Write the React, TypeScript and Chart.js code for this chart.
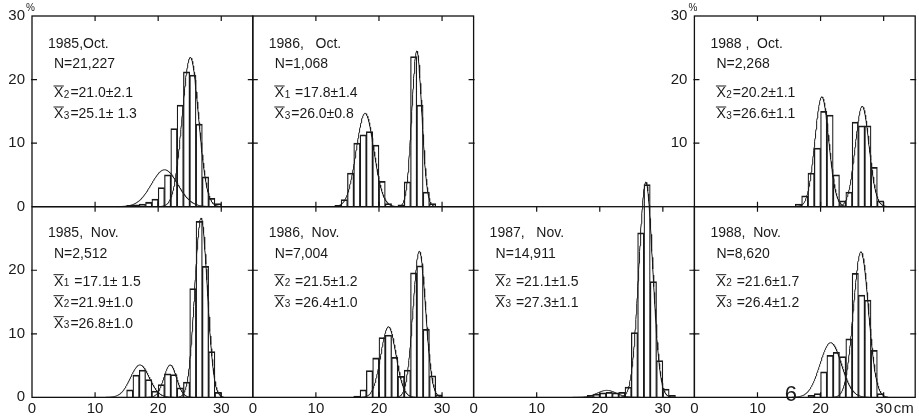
import React, { useEffect, useRef } from "react";
import { Chart, registerables } from "chart.js";

Chart.register(...registerables);

// ---------- axis ticks ----------
const xTickValues = [0, 10, 20, 30];
const yTickValues = [0, 10, 20, 30];
const xMax = 35;
const yMax = 30;

// ---------- 1985 Oct ----------
const oct1985Edges = [15, 16, 17, 18, 19, 20, 21, 22, 23, 24, 25, 26, 27, 28, 29];
const oct1985Pct = [0.2, 0.3, 0.4, 0.7, 1.2, 3.0, 5.0, 12.3, 16.0, 21.2, 20.7, 13.0, 4.7, 1.3, 0.5];
const oct1985Means = [21.0, 25.1];
const oct1985Sds = [2.1, 1.3];
const oct1985Peaks = [5.8, 23.5];
const oct1985Subs = ["2", "3"];
const oct1985Stats = ["=21.0\u00b12.1", "=25.1\u00b1 1.3"];

// ---------- 1986 Oct ----------
const oct1986Edges = [13, 14, 15, 16, 17, 18, 19, 20, 21, 23, 24, 25, 26, 27, 28];
const oct1986Pct = [0.2, 1.1, 5.3, 10.0, 11.3, 11.8, 9.7, 4.0, 0.5, 0.3, 3.9, 23.6, 16.0, 2.3, 0.5];
const oct1986Means = [17.8, 26.0];
const oct1986Sds = [1.4, 0.8];
const oct1986Peaks = [14.7, 24.5];
const oct1986Subs = ["1", "3"];
const oct1986Stats = [" =17.8\u00b11.4", "=26.0\u00b10.8"];

// ---------- 1988 Oct ----------
const oct1988Edges = [16, 17, 18, 19, 20, 21, 22, 23, 24, 25, 26, 27, 28, 29];
const oct1988Pct = [0.4, 1.7, 5.3, 9.2, 15.0, 14.4, 5.0, 0.9, 2.3, 13.3, 12.7, 12.7, 6.2, 0.9];
const oct1988Means = [20.2, 26.6];
const oct1988Sds = [1.1, 1.1];
const oct1988Peaks = [17.3, 15.8];
const oct1988Subs = ["2", "3"];
const oct1988Stats = ["=20.2\u00b11.1", "=26.6\u00b11.1"];

// ---------- 1985 Nov ----------
const nov1985Edges = [15, 16, 17, 18, 19, 20, 21, 22, 23, 24, 25, 26, 27, 28, 29];
const nov1985Pct = [1.2, 3.5, 4.3, 2.8, 1.0, 2.0, 3.7, 3.6, 1.5, 2.4, 17.1, 27.7, 20.6, 7.2, 0.8];
const nov1985Means = [17.1, 21.9, 26.8];
const nov1985Sds = [1.5, 1.0, 1.0];
const nov1985Peaks = [5.1, 5.1, 28.2];
const nov1985Subs = ["1", "2", "3"];
const nov1985Stats = [" =17.1\u00b1 1.5", "=21.9\u00b11.0", "=26.8\u00b11.0"];

// ---------- 1986 Nov ----------
const nov1986Edges = [16, 17, 18, 19, 20, 21, 22, 23, 24, 25, 26, 27, 28, 29];
const nov1986Pct = [0.2, 1.2, 4.2, 6.2, 9.4, 9.8, 6.3, 3.3, 4.3, 19.6, 20.7, 10.7, 3.4, 0.4];
const nov1986Means = [21.5, 26.4];
const nov1986Sds = [1.2, 1.0];
const nov1986Peaks = [11.1, 23.0];
const nov1986Subs = ["2", "3"];
const nov1986Stats = [" =21.5\u00b11.2", " =26.4\u00b11.0"];

// ---------- 1987 Nov ----------
const nov1987Edges = [18, 19, 20, 21, 22, 23, 24, 25, 26, 27, 28, 29, 30, 31];
const nov1987Pct = [0.3, 0.5, 0.7, 0.8, 0.7, 0.8, 1.6, 10.2, 25.9, 33.5, 18.2, 5.8, 1.3, 0.3];
const nov1987Means = [21.1, 27.3];
const nov1987Sds = [1.5, 1.1];
const nov1987Peaks = [1.1, 33.9];
const nov1987Subs = ["2", "3"];
const nov1987Stats = [" =21.1\u00b11.5", " =27.3\u00b11.1"];

// ---------- 1988 Nov ----------
const nov1988Edges = [18, 19, 20, 21, 22, 23, 24, 25, 26, 27, 28, 29];
const nov1988Pct = [0.3, 0.6, 4.0, 6.6, 7.1, 6.4, 9.2, 19.5, 16.1, 15.3, 7.4, 0.6];
const nov1988Means = [21.6, 26.4];
const nov1988Sds = [1.7, 1.2];
const nov1988Peaks = [8.6, 22.9];
const nov1988Subs = ["2", "3"];
const nov1988Stats = [" =21.6\u00b11.7", " =26.4\u00b11.2"];

type Panel = {
  col: number;
  row: number;
  edges: number[];
  pct: number[];
  means: number[];
  sds: number[];
  peaks: number[];
  title: string;
  n: string;
  subs: string[];
  stats: string[];
  yLabels: number[];
  xLabels: boolean;
  percent?: boolean;
  cm?: boolean;
  pageNo?: boolean;
};

const panels: Panel[] = [
  { col: 0, row: 0, edges: oct1985Edges, pct: oct1985Pct, means: oct1985Means, sds: oct1985Sds, peaks: oct1985Peaks,
    title: "1985,Oct.", n: "N=21,227", subs: oct1985Subs, stats: oct1985Stats, yLabels: [0, 10, 20, 30], xLabels: false, percent: true },
  { col: 1, row: 0, edges: oct1986Edges, pct: oct1986Pct, means: oct1986Means, sds: oct1986Sds, peaks: oct1986Peaks,
    title: "1986,   Oct.", n: "N=1,068", subs: oct1986Subs, stats: oct1986Stats, yLabels: [], xLabels: false },
  { col: 3, row: 0, edges: oct1988Edges, pct: oct1988Pct, means: oct1988Means, sds: oct1988Sds, peaks: oct1988Peaks,
    title: "1988 ,  Oct.", n: "N=2,268", subs: oct1988Subs, stats: oct1988Stats, yLabels: [10, 20, 30], xLabels: false, percent: true },
  { col: 0, row: 1, edges: nov1985Edges, pct: nov1985Pct, means: nov1985Means, sds: nov1985Sds, peaks: nov1985Peaks,
    title: "1985,  Nov.", n: "N=2,512", subs: nov1985Subs, stats: nov1985Stats, yLabels: [0, 10, 20], xLabels: true },
  { col: 1, row: 1, edges: nov1986Edges, pct: nov1986Pct, means: nov1986Means, sds: nov1986Sds, peaks: nov1986Peaks,
    title: "1986,  Nov.", n: "N=7,004", subs: nov1986Subs, stats: nov1986Stats, yLabels: [], xLabels: true },
  { col: 2, row: 1, edges: nov1987Edges, pct: nov1987Pct, means: nov1987Means, sds: nov1987Sds, peaks: nov1987Peaks,
    title: "1987,   Nov.", n: "N=14,911", subs: nov1987Subs, stats: nov1987Stats, yLabels: [], xLabels: true },
  { col: 3, row: 1, edges: nov1988Edges, pct: nov1988Pct, means: nov1988Means, sds: nov1988Sds, peaks: nov1988Peaks,
    title: "1988,  Nov.", n: "N=8,620", subs: nov1988Subs, stats: nov1988Stats, yLabels: [], xLabels: true, cm: true, pageNo: true },
];

const PAGE_W = 919;
const PAGE_H = 419;
const PANEL_W = 220.8;
const PANEL_H = 190.65;
const ROW_TOP = [16, 206.7];
const Y_AXIS_W = 30;
const X_AXIS_H = 22;
const INK = "#1a1a1a";
const FONT = '"Liberation Sans", Arial, Helvetica, sans-serif';

function gaussPoints(mean: number, sd: number, peak: number) {
  const pts: { x: number; y: number }[] = [];
  const lo = mean - 3.6 * sd;
  const hi = mean + 3.6 * sd;
  const steps = Math.ceil((hi - lo) / 0.05);
  for (let i = 0; i <= steps; i++) {
    const x = lo + ((hi - lo) * i) / steps;
    pts.push({ x, y: peak * Math.exp(-((x - mean) ** 2) / (2 * sd * sd)) });
  }
  return pts;
}

function makePlugin(p: Panel) {
  return {
    id: "frame" + p.col + p.row,
    afterDraw(chart: any) {
      const { ctx, chartArea: a, scales } = chart;
      const xs = scales.x;
      const ys = scales.y;
      ctx.save();
      // frame
      ctx.strokeStyle = "#111";
      ctx.lineWidth = 1.3;
      ctx.strokeRect(a.left, a.top, a.right - a.left, a.bottom - a.top);
      // inward ticks
      ctx.lineWidth = 1.2;
      ctx.beginPath();
      [10, 20, 30].forEach((v) => {
        const px = xs.getPixelForValue(v);
        ctx.moveTo(px, a.top);
        ctx.lineTo(px, a.top + 5);
        ctx.moveTo(px, a.bottom);
        ctx.lineTo(px, a.bottom - 5);
      });
      [10, 20].forEach((v) => {
        const py = ys.getPixelForValue(v);
        ctx.moveTo(a.left - 1, py);
        ctx.lineTo(a.left + 5, py);
        ctx.moveTo(a.right + 1, py);
        ctx.lineTo(a.right - 5, py);
      });
      ctx.stroke();

      // annotations
      const L = a.left;
      const T = a.top;
      const topRow = p.row === 0;
      ctx.fillStyle = INK;
      ctx.textAlign = "left";
      ctx.textBaseline = "middle";
      ctx.font = "14px " + FONT;
      ctx.fillText(p.title, L + 16, T + (topRow ? 28 : 26));
      ctx.fillText(p.n, L + 22, T + (topRow ? 48 : 47));
      const statY = topRow ? [77, 98] : [75, 96, 117];
      p.stats.forEach((s, i) => {
        const x0 = L + 22;
        const y0 = T + statY[i];
        ctx.font = "14px " + FONT;
        const wX = ctx.measureText("X").width;
        ctx.fillText("X", x0, y0);
        ctx.beginPath();
        ctx.lineWidth = 1;
        ctx.strokeStyle = INK;
        ctx.moveTo(x0 - 0.5, y0 - 7);
        ctx.lineTo(x0 + wX + 0.5, y0 - 7);
        ctx.stroke();
        ctx.font = "10px " + FONT;
        const wS = ctx.measureText(p.subs[i]).width;
        ctx.fillText(p.subs[i], x0 + wX + 0.5, y0 + 2);
        ctx.font = "14px " + FONT;
        ctx.fillText(s, x0 + wX + wS + 1.5, y0);
      });

      if (p.percent) {
        ctx.font = "10px " + FONT;
        ctx.fillText("%", a.left - 6, a.top - 8);
      }
      if (p.cm) {
        ctx.font = "15px " + FONT;
        ctx.fillText("cm", xs.getPixelForValue(30) + 10, a.bottom + 12);
      }
      if (p.pageNo) {
        ctx.font = "22px " + FONT;
        ctx.textAlign = "center";
        ctx.fillText("6", xs.getPixelForValue(15.3), a.bottom - 2);
      }
      ctx.restore();
    },
  };
}

function PanelChart({ p }: { p: Panel }) {
  const ref = useRef<HTMLCanvasElement>(null);
  useEffect(() => {
    if (!ref.current) return;
    const L = 32 + p.col * PANEL_W;
    const T = ROW_TOP[p.row];
    const tickFont = { family: FONT, size: 15 };
    const datasets: any[] = [
      {
        type: "bar",
        data: p.edges.map((e, i) => ({ x: e + 0.5, y: p.pct[i] })),
        backgroundColor: "rgba(255,255,255,0)",
        borderColor: INK,
        borderWidth: { top: 1.1, left: 0.6, right: 0.6, bottom: 0 },
        barPercentage: 1,
        categoryPercentage: 1,
        clip: false,
      },
      ...p.means.map((m, i) => ({
        type: "line",
        data: gaussPoints(m, p.sds[i], p.peaks[i]),
        borderColor: INK,
        borderWidth: 1,
        pointRadius: 0,
        tension: 0,
        fill: false,
        clip: false,
      })),
    ];
    const chart = new Chart(ref.current, {
      type: "bar",
      data: { datasets },
      options: {
        responsive: false,
        animation: false,
        events: [],
        layout: {
          padding: {
            left: L - Y_AXIS_W,
            right: PAGE_W - (L + PANEL_W),
            top: T,
            bottom: PAGE_H - (T + PANEL_H) - X_AXIS_H,
          },
        },
        plugins: { legend: { display: false }, tooltip: { enabled: false } },
        scales: {
          x: {
            type: "linear",
            min: 0,
            max: xMax,
            offset: false,
            grid: { display: false, drawTicks: false },
            border: { display: false },
            afterBuildTicks: (s: any) => {
              s.ticks = xTickValues.map((v) => ({ value: v }));
            },
            afterFit: (s: any) => {
              s.height = X_AXIS_H;
            },
            ticks: { display: p.xLabels, padding: 3, color: INK, font: tickFont, maxRotation: 0, autoSkip: false },
          },
          y: {
            type: "linear",
            min: 0,
            max: yMax,
            grid: { display: false, drawTicks: false },
            border: { display: false },
            afterBuildTicks: (s: any) => {
              s.ticks = yTickValues.filter((v) => p.yLabels.includes(v)).map((v) => ({ value: v }));
            },
            afterFit: (s: any) => {
              s.width = Y_AXIS_W;
            },
            ticks: { display: p.yLabels.length > 0, padding: 7, color: INK, font: tickFont, autoSkip: false },
          },
        },
      } as any,
      plugins: [makePlugin(p)],
    });
    return () => chart.destroy();
  }, [p]);
  return (
    <canvas
      ref={ref}
      width={PAGE_W}
      height={PAGE_H}
      style={{ position: "absolute", left: 0, top: 0, width: PAGE_W, height: PAGE_H }}
    />
  );
}

export default function App() {
  return (
    <div style={{ position: "absolute", left: 0, top: 0, width: PAGE_W, height: PAGE_H, background: "#fff", overflow: "hidden" }}>
      {panels.map((p) => (
        <PanelChart key={p.col + "-" + p.row} p={p} />
      ))}
    </div>
  );
}
